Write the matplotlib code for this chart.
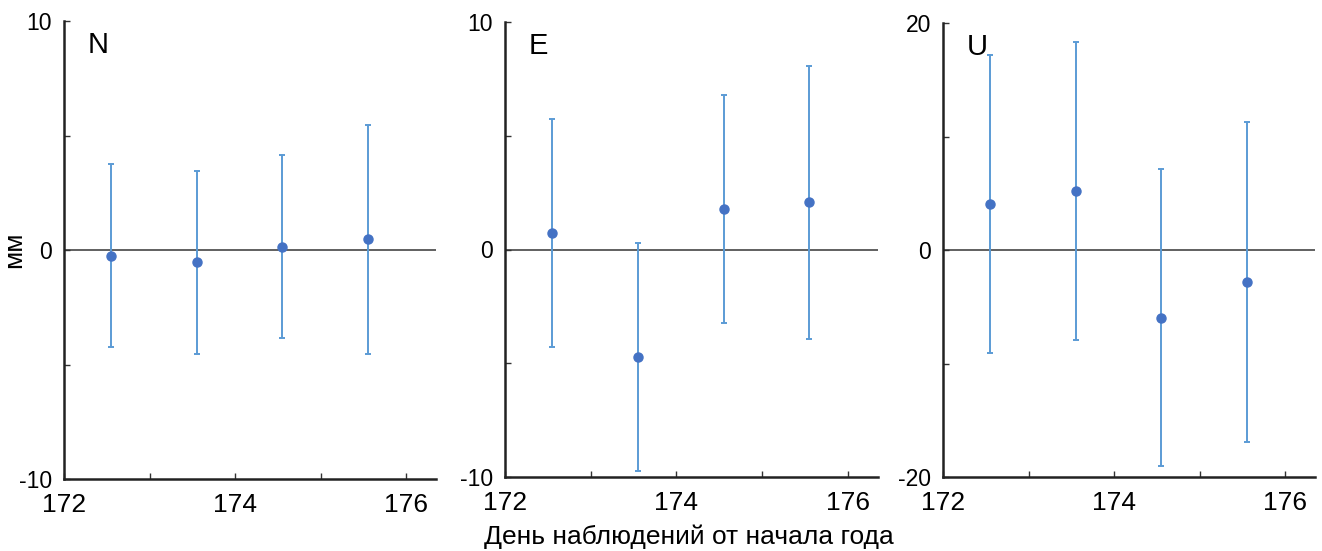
import matplotlib
matplotlib.use("Agg")
import matplotlib.pyplot as plt
from matplotlib.ticker import MultipleLocator, FuncFormatter

plt.rcParams['font.family'] = ['Liberation Sans', 'DejaVu Sans']

days = [172.55, 173.55, 174.55, 175.55]
panel_names = ["N", "E", "U"]
n_vals = [-0.25, -0.53, 0.15, 0.47]
n_err = [4.0, 4.0, 4.0, 5.0]
e_vals = [0.72, -4.72, 1.79, 2.07]
e_err = [5.0, 5.0, 5.0, 6.0]
u_vals = [4.05, 5.2, -5.96, -2.83]
u_err = [13.1, 13.1, 13.1, 14.1]
ylims = [(-10, 10), (-10, 10), (-20, 20)]
ysteps = [5, 5, 10]
ylabel = "мм"
xlabel = "День наблюдений от начала года"

W, H = 1322, 551
fig = plt.figure(figsize=(W / 100, H / 100), dpi=100)

boxes = [(64, 436, 21, 479), (505, 878, 22, 477), (943, 1315, 23, 477)]
vals = [n_vals, e_vals, u_vals]
errs = [n_err, e_err, u_err]

for i, (l, r, t, b) in enumerate(boxes):
    ax = fig.add_axes([l / W, (H - b) / H, (r - l) / W, (b - t) / H])
    ax.set_xlim(172, 176.35)
    ax.set_ylim(*ylims[i])
    ax.axhline(0, color="#606060", lw=1.4, zorder=1)
    ax.errorbar(days, vals[i], yerr=errs[i], fmt="none", ecolor="#5B9BD5",
                elinewidth=1.4, capsize=2.5, capthick=1.4, zorder=2)
    ax.plot(days, vals[i], "o", color="#4472C4", markersize=6.5, zorder=3)
    for s in ["top", "right"]:
        ax.spines[s].set_visible(False)
    for s in ["left", "bottom"]:
        ax.spines[s].set_linewidth(1.8)
        ax.spines[s].set_color("#222222")
    ax.xaxis.set_major_locator(MultipleLocator(1))
    ax.xaxis.set_major_formatter(FuncFormatter(lambda v, p: f"{int(round(v))}" if int(round(v)) % 2 == 0 else ""))
    lo, hi = ylims[i]
    ax.yaxis.set_major_locator(MultipleLocator(ysteps[i]))
    ax.yaxis.set_major_formatter(FuncFormatter(lambda v, p, hi=hi: f"{int(round(v))}" if int(round(v)) % hi == 0 else ""))
    ax.tick_params(axis="x", direction="in", length=4, width=1, pad=10, labelsize=19, color="#333333")
    ax.tick_params(axis="y", direction="in", length=4, width=1, pad=8.5, labelsize=16.5, color="#333333")
    ax.text(24 / (r - l), 1 - 10 / (b - t), panel_names[i], transform=ax.transAxes,
            fontsize=21, ha="left", va="top")
    if i == 0:
        ax.set_ylabel(ylabel, fontsize=19)
        ax.yaxis.set_label_coords(-38 / (r - l), 0.5)

fig.text(689 / W, 1 - 537 / H, xlabel, fontsize=19, ha="center", va="center")

fig.savefig("out.png", dpi=100)
